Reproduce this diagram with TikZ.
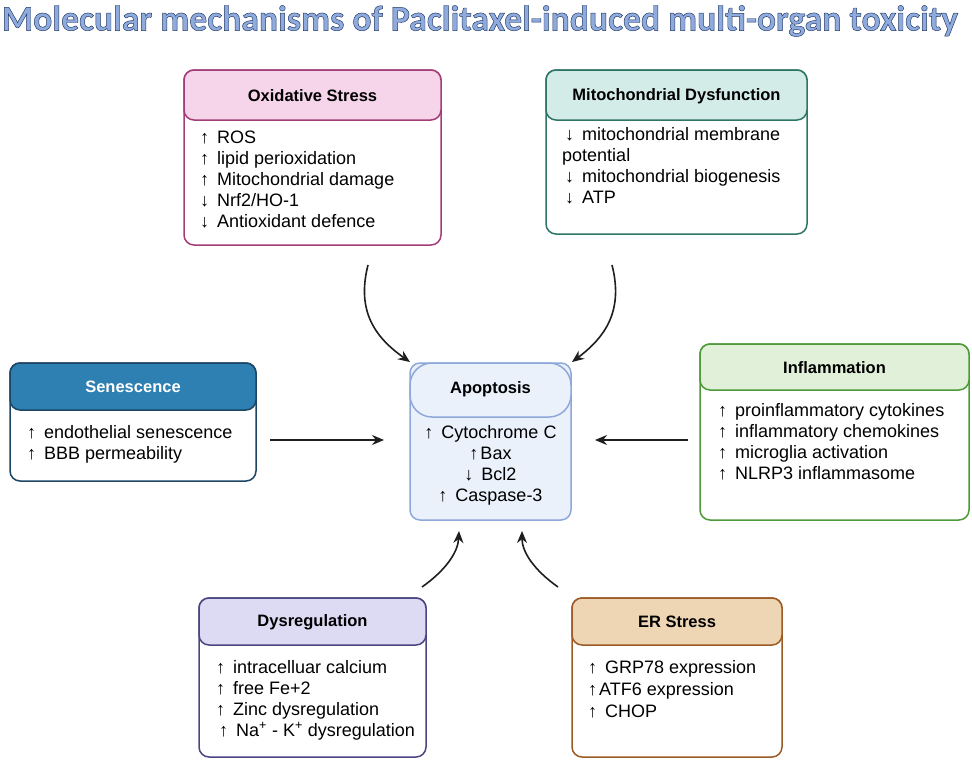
\documentclass[tikz,border=0pt]{standalone}
\usepackage{fontspec}
\setmainfont{Liberation Sans}
\newfontfamily\titlefont{Carlito Bold}[FakeBold=1.3]
\usetikzlibrary{arrows.meta}
\definecolor{osB}{HTML}{A33D78}\definecolor{osF}{HTML}{F6D4EA}
\definecolor{mdB}{HTML}{2F7566}\definecolor{mdF}{HTML}{D3ECE7}
\definecolor{snB}{HTML}{1D4664}\definecolor{snF}{HTML}{2D80B1}
\definecolor{apB}{HTML}{8EA8DA}\definecolor{apF}{HTML}{EAF1FB}
\definecolor{inB}{HTML}{4E9A3A}\definecolor{inF}{HTML}{E1F1D9}
\definecolor{dyB}{HTML}{4B4680}\definecolor{dyF}{HTML}{DDDAF3}
\definecolor{erB}{HTML}{9C5A24}\definecolor{erF}{HTML}{EED6B5}
\definecolor{ttlF}{HTML}{8FAADC}
\definecolor{ttlB}{HTML}{1F3864}
\definecolor{arr}{HTML}{1E1E1E}
\newcommand\upa{↑\hspace{8pt}}
\newcommand\dna{↓\hspace{8pt}}
\tikzset{
  frame/.style={rounded corners=10pt, line width=1.5pt, fill=white},
  head/.style={rounded corners=10pt, line width=1.5pt},
  htext/.style={font=\fontsize{16.5}{20}\selectfont\bfseries, anchor=center, inner sep=0pt},
  btext/.style={font=\fontsize{18}{21}\selectfont, anchor=north west, align=left, inner sep=0pt},
  link/.style={line width=1.6pt, draw=arr, -{Stealth[length=12pt,width=10pt]}},
}
\begin{document}
\begin{tikzpicture}[x=1pt,y=-1pt]
\useasboundingbox (0,0) rectangle (972,761);
% title
\node[anchor=center, inner sep=0pt] (title) at (480,21) {\resizebox{956pt}{!}{\color{ttlB}\special{pdf:literal direct 0.561 0.667 0.863 rg}\titlefont\fontsize{32}{36}\selectfont Molecular mechanisms of Paclitaxel-induced multi-organ toxicity}};

% Oxidative Stress
\draw[frame, draw=osB] (184,70) rectangle (441,245);
\draw[head, draw=osB, fill=osF] (184,70) rectangle (441,120);
\node[htext] (osh) at (312.5,96) {Oxidative Stress};
\node[btext] (ost) at (200,131) {\upa ROS\\\upa lipid perioxidation\\\upa Mitochondrial damage\\\dna Nrf2/HO-1\\\dna Antioxidant defence};

% Mitochondrial Dysfunction
\draw[frame, draw=mdB] (546,70) rectangle (807,234);
\draw[head, draw=mdB, fill=mdF] (546,70) rectangle (807,120);
\node[htext] (mdh) at (676.5,96) {Mitochondrial Dysfunction};
\node[btext] (mdt) at (562,127) {\,\dna mitochondrial membrane\\potential\\\,\dna mitochondrial biogenesis\\\,\dna ATP};

% Senescence
\draw[frame, draw=snB] (10,363) rectangle (256,481);
\draw[head, draw=snB, fill=snF] (10,363) rectangle (256,410);
\node[htext, text=white] (snh) at (133,387) {Senescence};
\node[btext] (snt) at (27,425) {\upa endothelial senescence\\\upa BBB permeability};

% Apoptosis
\draw[frame, draw=apB, fill=apF] (410,363) rectangle (571,520);
\draw[head, draw=apB, fill=apF, rounded corners=22pt] (410,363) rectangle (571,417);
\node[htext] (aph) at (490.5,389) {Apoptosis};
\node[btext, anchor=north, align=center] (apt) at (490.5,425) {\upa Cytochrome C\\↑\hspace{2pt}Bax\\\dna Bcl2\\\upa Caspase-3};

% Inflammation
\draw[frame, draw=inB] (700,344) rectangle (969,520);
\draw[head, draw=inB, fill=inF] (700,344) rectangle (969,390);
\node[htext] (inh) at (834.5,368) {Inflammation};
\node[btext] (int) at (718,403) {\upa proinflammatory cytokines\\\upa inflammatory chemokines\\\upa microglia activation\\\upa NLRP3 inflammasome};

% Dysregulation
\draw[frame, draw=dyB] (199,598) rectangle (426,757);
\draw[head, draw=dyB, fill=dyF] (199,598) rectangle (426,645);
\node[htext] (dyh) at (312.5,622) {Dysregulation};
\node[btext] (dyt) at (216,660) {\upa intracelluar calcium\\\upa free Fe+2\\\upa Zinc dysregulation\\\,\upa Na\textsuperscript{+} - K\textsuperscript{+} dysregulation};

% ER Stress
\draw[frame, draw=erB] (572,598) rectangle (782,757);
\draw[head, draw=erB, fill=erF] (572,598) rectangle (782,645);
\node[htext] (erh) at (677,622) {ER Stress};
\node[btext, font=\fontsize{18}{22}\selectfont] (ert) at (588,660) {\upa GRP78 expression\\↑\hspace{2pt}ATF6 expression\\\upa CHOP};

% arrow end points
\coordinate (a1s) at (368,265); \coordinate (a1e) at (410,362);
\coordinate (a2s) at (612,265); \coordinate (a2e) at (572,362);
\coordinate (a3s) at (270,440); \coordinate (a3e) at (384,440);
\coordinate (a4s) at (688,440); \coordinate (a4e) at (595,440);
\coordinate (a5s) at (422,587); \coordinate (a5e) at (459,531);
\coordinate (a6s) at (558,587); \coordinate (a6e) at (522,531);

\draw[link] (a1s) .. controls (356,312) and (376,338) .. (a1e);
\draw[link] (a2s) .. controls (624,312) and (604,338) .. (a2e);
\draw[link] (a3s) -- (a3e);
\draw[link] (a4s) -- (a4e);
\draw[link] (a5s) .. controls (446,570) and (458,552) .. (a5e);
\draw[link] (a6s) .. controls (534,570) and (522,552) .. (a6e);
\end{tikzpicture}
\end{document}
